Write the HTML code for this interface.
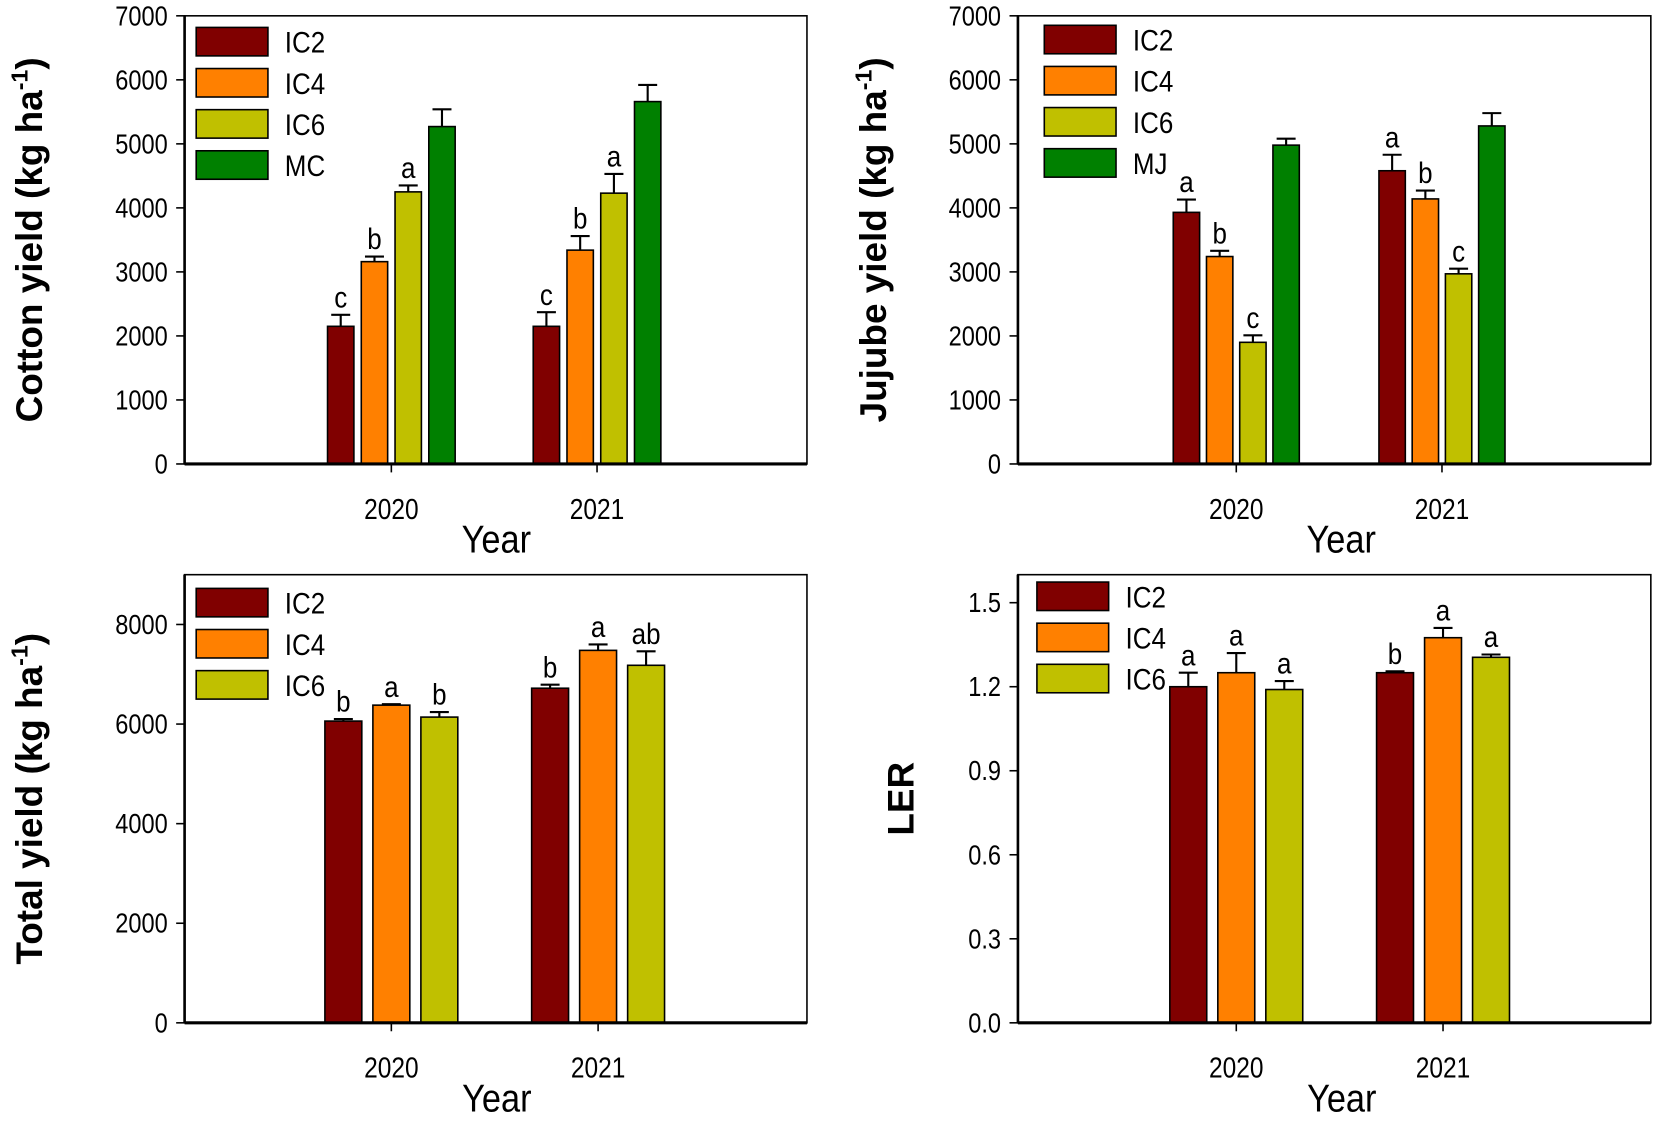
<!DOCTYPE html>
<html><head><meta charset="utf-8">
<style>
html,body{margin:0;padding:0;background:#fff;}
svg{display:block;font-family:"Liberation Sans",Arial,sans-serif;}
</style></head>
<body>
<svg id="fig" width="1654" height="1123" viewBox="0 0 1568 1065" preserveAspectRatio="none" xmlns="http://www.w3.org/2000/svg"></svg>
<script>
const years = ["2020","2021"];
const colors = ["#800000","#ff8000","#c0c000","#008000"];
const cottonSeries = ["IC2","IC4","IC6","MC"];
const cottonVals = [[2150,2150],[3160,3340],[4250,4230],[5270,5660]];
const cottonErr = [[180,220],[80,220],[100,300],[270,260]];
const cottonLetters = [["c","c"],["b","b"],["a","a"],["",""]];
const cottonTicks = [0,1000,2000,3000,4000,5000,6000,7000];
const jujubeSeries = ["IC2","IC4","IC6","MJ"];
const jujubeVals = [[3930,4580],[3240,4140],[1900,2970],[4980,5280]];
const jujubeErr = [[200,250],[90,130],[110,80],[100,200]];
const jujubeLetters = [["a","a"],["b","b"],["c","c"],["",""]];
const jujubeTicks = [0,1000,2000,3000,4000,5000,6000,7000];
const totalSeries = ["IC2","IC4","IC6"];
const totalVals = [[6060,6720],[6380,7480],[6140,7180]];
const totalErr = [[40,70],[20,120],[100,280]];
const totalLetters = [["b","b"],["a","a"],["b","ab"]];
const totalTicks = [0,2000,4000,6000,8000];
const lerSeries = ["IC2","IC4","IC6"];
const lerVals = [[1.20,1.25],[1.25,1.375],[1.19,1.305]];
const lerErr = [[0.05,0.005],[0.07,0.035],[0.03,0.01]];
const lerLetters = [["a","b"],["a","a"],["a","a"]];
const lerTicks = [0,0.3,0.6,0.9,1.2,1.5];

const NS="http://www.w3.org/2000/svg";
const svg=document.getElementById('fig');
function mk(tag,attrs,parent,text){const e=document.createElementNS(NS,tag);for(const k in attrs)e.setAttribute(k,attrs[k]);if(text!==undefined)e.textContent=text;(parent||svg).appendChild(e);return e;}
function txt(parent,x,y,size,anchor,s,sx){
  return mk('text',{x:0,y:0,'font-size':size,'text-anchor':anchor,transform:`translate(${x},${y}) scale(${sx},1)`},parent,s);
}

function panel(o){
  const g=mk('g',{});
  
  
  const y=v=>o.bottom-(v-0)/o.max*(o.bottom-o.top);
  const n=o.series.length;
  for(let s=0;s<n;s++){
    for(let c=0;c<years.length;c++){
      const cx=o.centers[c]+(s-(n-1)/2)*o.step;
      const v=o.vals[s][c], e=o.err[s][c];
      const r=mk('rect',{x:cx-o.bw/2,y:y(v),width:o.bw,height:o.bottom-y(v),fill:colors[s],stroke:'#000','stroke-width':1.5},g);
      
      
      const eb=mk('path',{d:`M${cx},${y(v)}V${y(v+e)}M${cx-9},${y(v+e)}H${cx+9}`,stroke:'#000','stroke-width':2,fill:'none'},g);
      
      
      if(o.letters[s][c]){
        const t=txt(g,cx,y(v+e)-7,28,'middle',o.letters[s][c],0.88);
        
        
      }
    }
  }
  const fr=mk('rect',{x:o.left,y:o.top,width:o.right-o.left,height:o.bottom-o.top,fill:'none',stroke:'#000','stroke-width':1.5},g);
  
  
  mk('line',{x1:o.left,x2:o.right,y1:o.bottom,y2:o.bottom,stroke:'#000','stroke-width':3},g);
  mk('line',{x1:o.left,x2:o.left,y1:o.top,y2:o.bottom,stroke:'#000','stroke-width':2.5},g);
  o.ticks.forEach(t=>{
    mk('line',{x1:o.left-8,x2:o.left,y1:y(t),y2:y(t),stroke:'#000','stroke-width':1.5},g);
    const tl=txt(g,o.left-16,y(t)+9,26,'end',o.fmt(t),0.86);
    
    
  });
  years.forEach((yr,c)=>{
    mk('line',{x1:o.centers[c],x2:o.centers[c],y1:o.bottom,y2:o.bottom+8,stroke:'#000','stroke-width':1.5},g);
    const tl=txt(g,o.centers[c],o.bottom+52,27,'middle',yr,0.86);
    
    
  });
  const xt=txt(g,(o.centers[0]+o.centers[1])/2+2,o.bottom+84,37,'middle','Year',0.88);
  
  
  const yt=mk('text',{x:0,y:0,'font-size':35,'font-weight':'bold','text-anchor':'middle',transform:`translate(${o.ytx},${(o.top+o.bottom)/2}) rotate(-90)`},g);
  
  
  if(o.unit){
    yt.appendChild(document.createTextNode(o.ytitle+' (kg ha'));
    mk('tspan',{dy:-14,'font-size':22},yt,'-1');
    mk('tspan',{dy:14},yt,')');
  } else yt.textContent=o.ytitle;
  o.series.forEach((s,i)=>{
    const ly=o.legTop+i*o.legStep;
    const lb=mk('rect',{x:o.legX,y:ly,width:68,height:27,fill:colors[i],stroke:'#000','stroke-width':1.5},g);
    
    
    const lt=txt(g,o.legX+84,ly+24,28,'start',s,0.88);
    
    
  });
}
const fmtInt=t=>String(t);
panel({name:'cotton-yield-panel',series:cottonSeries,vals:cottonVals,err:cottonErr,letters:cottonLetters,ticks:cottonTicks,max:7000,
  left:175,right:765,top:15,bottom:440,centers:[371,566],step:32,bw:25,fmt:fmtInt,ytx:40,ytitle:'Cotton yield',unit:true,legX:186,legTop:26,legStep:39});
panel({name:'jujube-yield-panel',series:jujubeSeries,vals:jujubeVals,err:jujubeErr,letters:jujubeLetters,ticks:jujubeTicks,max:7000,
  left:965,right:1565,top:15,bottom:440,centers:[1172,1367],step:31.5,bw:25,fmt:fmtInt,ytx:840,ytitle:'Jujube yield',unit:true,legX:990,legTop:24,legStep:39});
panel({name:'total-yield-panel',series:totalSeries,vals:totalVals,err:totalErr,letters:totalLetters,ticks:totalTicks,max:9000,
  left:175,right:765,top:545,bottom:970,centers:[371,567],step:45.5,bw:35,fmt:fmtInt,ytx:40,ytitle:'Total yield',unit:true,legX:186,legTop:558,legStep:39});
panel({name:'ler-panel',series:lerSeries,vals:lerVals,err:lerErr,letters:lerLetters,ticks:lerTicks,max:1.6,
  left:965,right:1565,top:545,bottom:970,centers:[1172,1368],step:45.5,bw:35,fmt:t=>t.toFixed(1),ytx:866,ytitle:'LER',unit:false,legX:983,legTop:552,legStep:39});
</script>
</body></html>
